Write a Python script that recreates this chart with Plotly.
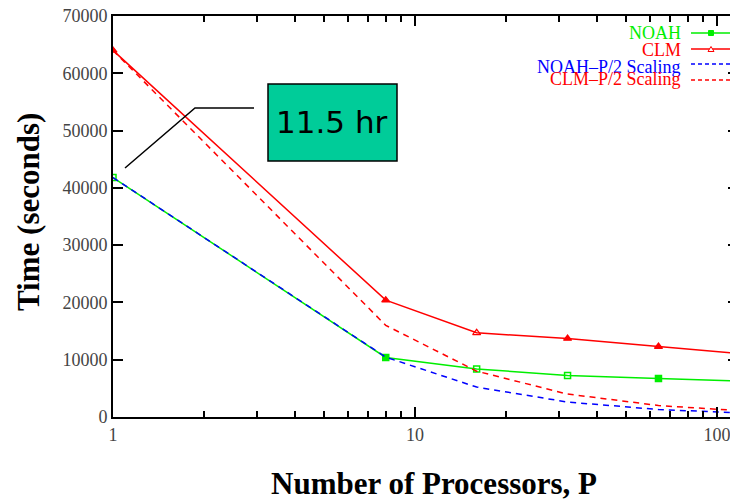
import plotly.graph_objects as go

# ---- data ----
processors = [1, 8, 16, 32, 64, 128]
noah_time = [41800, 10400, 8400, 7250, 6700, 6200]
clm_time = [64000, 20400, 14700, 13700, 12300, 10900]
noah_p2 = [41800, 10450, 5225, 2612, 1306, 653]
clm_p2 = [64000, 16000, 8000, 4000, 2000, 1000]

y_ticks = [0, 10000, 20000, 30000, 40000, 50000, 60000, 70000]
x_major = [1, 10, 100]
x_minor = [2, 3, 4, 5, 6, 7, 8, 9, 20, 30, 40, 50, 60, 70, 80, 90]

legend_names = ["NOAH", "CLM", "NOAH\u2013P/2 Scaling", "CLM\u2013P/2 Scaling"]
GREEN, RED, BLUE = "#00ee00", "#ff0000", "#0000ff"
legend_colors = [GREEN, RED, BLUE, RED]
legend_dash = ["solid", "solid", "dash", "dash"]

noah_symbols = ["square-open", "square", "square-open", "square-open", "square", "square"]
clm_symbols = ["triangle-up", "triangle-up", "triangle-up-open", "triangle-up", "triangle-up", "triangle-up"]

SERIF = "Liberation Serif, Times New Roman, serif"
TICK_COLOR = "#444"

# the page body has an 8px margin, so the figure is shifted by OFF
OFF = 8
W, H = 738 - OFF, 501 - OFF
# plot area in reference-page pixels
L, R, T, B = 113, 738, 16, 417


def px(xp):
    return (xp - L) / (R - L)


def py(yp):
    return (B - yp) / (B - T)


fig = go.Figure()
fig.add_trace(go.Scatter(x=processors, y=noah_time, mode="lines+markers", name=legend_names[0],
                         line=dict(color=GREEN, width=1.5),
                         marker=dict(symbol=noah_symbols, size=6, color=GREEN,
                                     line=dict(color=GREEN, width=1.5))))
fig.add_trace(go.Scatter(x=processors, y=clm_time, mode="lines+markers", name=legend_names[1],
                         line=dict(color=RED, width=1.5),
                         marker=dict(symbol=clm_symbols, size=7, color=RED,
                                     line=dict(color=RED, width=1.2))))
fig.add_trace(go.Scatter(x=processors, y=noah_p2, mode="lines", name=legend_names[2],
                         line=dict(color=BLUE, width=1.5, dash="6px,5px")))
fig.add_trace(go.Scatter(x=processors, y=clm_p2, mode="lines", name=legend_names[3],
                         line=dict(color=RED, width=1.5, dash="6px,5px")))

shapes = []
annotations = []

# custom gnuplot-style key (text right, sample on the right)
legend_text_y = [33, 50, 67, 79]
legend_line_y = [33, 49, 64, 80]
for i, name in enumerate(legend_names):
    annotations.append(dict(xref="paper", yref="paper", x=px(683), y=py(legend_text_y[i]),
                            text=name, showarrow=False, xanchor="right", yanchor="middle",
                            font=dict(family=SERIF, size=18, color=legend_colors[i])))
    shapes.append(dict(type="line", xref="paper", yref="paper",
                       x0=px(691), x1=px(734), y0=py(legend_line_y[i]), y1=py(legend_line_y[i]),
                       line=dict(color=legend_colors[i], width=1.5,
                                 dash="solid" if legend_dash[i] == "solid" else "4px,3px")))
# key markers
shapes.append(dict(type="rect", xref="paper", yref="paper",
                   x0=px(708.5), x1=px(713.5), y0=py(35.5), y1=py(30.5),
                   fillcolor=GREEN, line=dict(color=GREEN, width=1)))
shapes.append(dict(type="path", xref="paper", yref="paper",
                   path=f"M {px(708)} {py(51.5)} L {px(714)} {py(51.5)} L {px(711)} {py(46.5)} Z",
                   fillcolor="white", line=dict(color=RED, width=1)))

# call-out box and leader line
shapes.append(dict(type="rect", xref="paper", yref="paper",
                   x0=px(268), x1=px(397), y0=py(161), y1=py(84),
                   fillcolor="#00cc99", line=dict(color="black", width=1.5)))
shapes.append(dict(type="path", xref="paper", yref="paper",
                   path=f"M {px(125)} {py(168)} L {px(195)} {py(108)} L {px(254)} {py(108)}",
                   line=dict(color="black", width=1.5)))
annotations.append(dict(xref="paper", yref="paper", x=px(332), y=py(122),
                        text="11.5 hr", showarrow=False, xanchor="center", yanchor="middle",
                        font=dict(family="DejaVu Sans, sans-serif", size=31, color="black")))

# axis titles
annotations.append(dict(xref="paper", yref="paper", x=px(434), y=py(484),
                        text="<b>Number of Processors, P</b>", showarrow=False,
                        xanchor="center", yanchor="middle",
                        font=dict(family=SERIF, size=31, color="black")))
annotations.append(dict(xref="paper", yref="paper", x=px(28), y=py(212),
                        text="<b>Time (seconds)</b>", showarrow=False, textangle=-90,
                        xanchor="center", yanchor="middle",
                        font=dict(family=SERIF, size=31, color="black")))

fig.update_layout(
    width=W, height=H,
    margin=dict(l=L - OFF, r=738 - R, t=T - OFF, b=501 - B, pad=0, autoexpand=False),
    paper_bgcolor="white", plot_bgcolor="white",
    showlegend=False,
    shapes=shapes, annotations=annotations,
    font=dict(family=SERIF, size=18, color=TICK_COLOR),
    xaxis=dict(type="log", range=[0, 2.0695], automargin=False, ticklabeloverflow="allow",
               tickvals=x_major, ticktext=[str(v) for v in x_major],
               ticks="inside", ticklen=10, tickwidth=1.5, tickcolor="black",
               showline=True, linecolor="black", linewidth=2, mirror="ticks",
               showgrid=False, zeroline=False,
               minor=dict(tickvals=x_minor, ticks="inside", ticklen=6, tickwidth=1.5,
                          tickcolor="black", showgrid=False),
               tickfont=dict(family=SERIF, size=18, color=TICK_COLOR)),
    yaxis=dict(range=[0, 70000], tickvals=y_ticks, tickformat="d", automargin=False,
               ticklabeloverflow="allow",
               ticks="inside", ticklen=10, tickwidth=1.5, tickcolor="black",
               showline=True, linecolor="black", linewidth=2, mirror="ticks",
               showgrid=False, zeroline=False,
               tickfont=dict(family=SERIF, size=18, color=TICK_COLOR)),
)

fig.write_html("out.html")
